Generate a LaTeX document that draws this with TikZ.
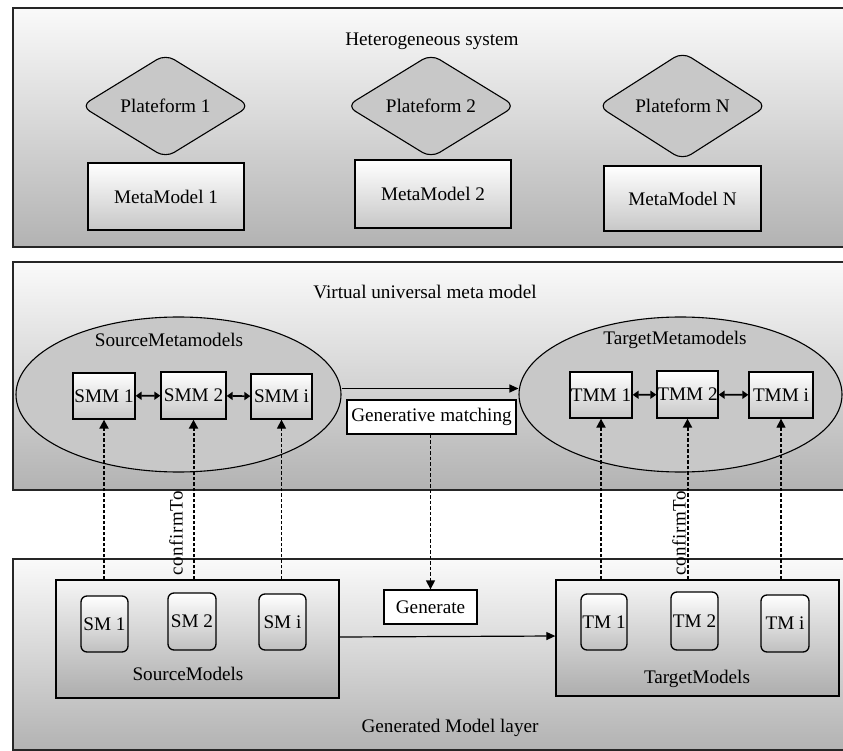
\documentclass[tikz,border=0pt]{standalone}
\usepackage{fontspec}
\setmainfont{Liberation Serif}
\usetikzlibrary{shapes.geometric,arrows.meta,calc}
\definecolor{fillgray}{RGB}{200,200,200}
\begin{document}
\begin{tikzpicture}[x=1pt,y=-1pt,
  font=\fontsize{19.2}{22}\selectfont,
  layer/.style={draw=black!85, line width=1.5pt, top color=black!2, bottom color=black!30, inner sep=0pt},
  plat/.style={diamond, draw, line width=1.1pt, fill=fillgray, rounded corners=10pt, inner sep=0pt, minimum width=169pt, minimum height=78pt},
  mmbox/.style={draw, line width=1.3pt, top color=white, bottom color=black!22, inner sep=0pt},
  grp/.style={ellipse, draw, line width=1.1pt, fill=fillgray, inner sep=0pt},
  wbox/.style={draw, line width=1.3pt, fill=white, inner sep=0pt},
  modbox/.style={draw, line width=1.3pt, rounded corners=6pt, top color=white, bottom color=black!25, inner sep=0pt},
  grpbox/.style={draw, line width=1.3pt, top color=black!4, bottom color=black!32, inner sep=0pt},
  lbl/.style={inner sep=0pt},
  solidarr/.style={line width=1.2pt, -{Triangle[length=9pt,width=8pt]}},
  duoarr/.style={line width=1.6pt, {Triangle[length=6pt,width=8pt]}-{Triangle[length=6pt,width=8pt]}},
  thickdash/.style={line width=2pt, dash pattern=on 3.5pt off 2pt, -{Triangle[length=9pt,width=9pt]}},
  thindash/.style={line width=1.3pt, dash pattern=on 3.5pt off 2pt, -{Triangle[length=9pt,width=9pt]}}
]
\useasboundingbox (0,0) rectangle (843,751);

% layers
\node[layer, minimum width=834pt, minimum height=239pt] (L1) at (430,127.5) {};
\node[layer, minimum width=834pt, minimum height=228pt] (L2) at (430,376) {};
\node[layer, minimum width=834pt, minimum height=191pt] (L3) at (430,654.5) {};

% top layer
\node[lbl] (hs) at (432,41) {Heterogeneous system};
\node[plat] (p1) at (165.5,106) {Plateform 1};
\node[plat] (p2) at (431,106) {Plateform 2};
\node[plat] (pn) at (682.5,106) {Plateform N};
\node[mmbox, minimum width=156pt, minimum height=67pt] (mm1) at (166,196.5) {MetaModel 1};
\node[mmbox, minimum width=156pt, minimum height=68pt] (mm2) at (433,194) {MetaModel 2};
\node[mmbox, minimum width=157pt, minimum height=65pt] (mmn) at (682.5,198.5) {MetaModel N};

% middle layer
\node[lbl] (vu) at (425,292) {Virtual universal meta model};
\node[grp, minimum width=325pt, minimum height=155pt] (src) at (178.5,394.5) {};
\node[grp, minimum width=323pt, minimum height=155pt] (tgt) at (680.5,394.5) {};
\node[lbl] (smlab) at (169,340) {SourceMetamodels};
\node[lbl] (tmlab) at (675,340) {TargetMetamodels};

\node[mmbox, minimum width=62pt, minimum height=46pt] (smm1) at (104,396) {SMM 1};
\node[mmbox, minimum width=65pt, minimum height=47pt] (smm2) at (193.5,395.5) {SMM 2};
\node[mmbox, minimum width=61pt, minimum height=45pt] (smmi) at (281.5,396.5) {SMM i};
\node[mmbox, minimum width=62pt, minimum height=46pt] (tmm1) at (601,395) {TMM 1};
\node[mmbox, minimum width=61pt, minimum height=47pt] (tmm2) at (687.5,394.5) {TMM 2};
\node[mmbox, minimum width=64pt, minimum height=46pt] (tmmi) at (781,395) {TMM i};

\draw[duoarr] (smm1) -- (smm2);
\draw[duoarr] (smm2) -- (smmi);
\draw[duoarr] (tmm1) -- (tmm2);
\draw[duoarr] (tmm2) -- (tmmi);

\draw[solidarr] ([yshift=6pt]src.east) -- ([yshift=6pt]tgt.west);
\node[wbox, minimum width=169pt, minimum height=34pt] (gm) at (431.5,417) {Generative matching};

% bottom layer
\node[grpbox, minimum width=283pt, minimum height=118pt] (sbox) at (197.5,639) {};
\node[grpbox, minimum width=283pt, minimum height=116pt] (tbox) at (697.5,638) {};
\node[lbl] (slab) at (188,674) {SourceModels};
\node[lbl] (tlab) at (697,679) {TargetModels};
\node[modbox, minimum width=47pt, minimum height=56pt] (sm1) at (104.5,624) {SM 1};
\node[modbox, minimum width=48pt, minimum height=57pt] (sm2) at (192,621.5) {SM 2};
\node[modbox, minimum width=47pt, minimum height=56pt] (smi) at (282.5,622) {SM i};
\node[modbox, minimum width=46pt, minimum height=56pt] (tm1) at (604,622) {TM 1};
\node[modbox, minimum width=47pt, minimum height=58pt] (tm2) at (694.5,621) {TM 2};
\node[modbox, minimum width=48pt, minimum height=57pt] (tmi) at (785,623.5) {TM i};
\node[wbox, minimum width=93pt, minimum height=34pt] (gen) at (430.5,607) {Generate};
\node[lbl] (gml) at (450,728) {Generated Model layer};

\draw[solidarr] ([yshift=2pt]sbox.east) -- ([yshift=2pt]tbox.west);
\draw[thindash] (gm.south -| gen.north) -- (gen.north);

% conformance arrows
\draw[thickdash] (smm1.south |- sbox.north) -- (smm1.south);
\draw[thickdash] (smm2.south |- sbox.north) -- (smm2.south);
\draw[thindash] (smmi.south |- sbox.north) -- (smmi.south);
\draw[thickdash] (tmm1.south |- tbox.north) -- (tmm1.south);
\draw[thickdash] (tmm2.south |- tbox.north) -- (tmm2.south);
\draw[thindash] (tmmi.south |- tbox.north) -- (tmmi.south);

\node[lbl, rotate=90, font=\fontsize{19}{22}\selectfont\addfontfeatures{LetterSpace=3}] (ct1) at (176,533) {confirmTo};
\node[lbl, rotate=90, font=\fontsize{19}{22}\selectfont\addfontfeatures{LetterSpace=3}] (ct2) at (679,533) {confirmTo};
\end{tikzpicture}
\end{document}
